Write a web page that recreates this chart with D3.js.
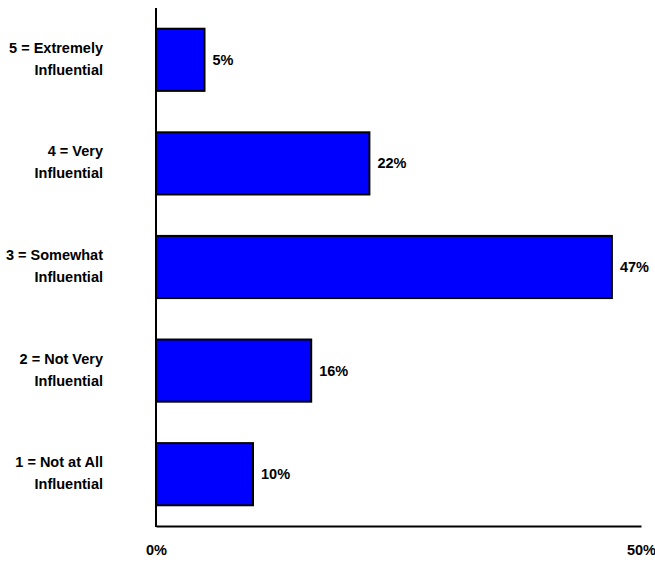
<!DOCTYPE html>
<html>
<head>
<meta charset="utf-8">
<script src="https://cdn.jsdelivr.net/npm/d3@7"></script>
<style>
  html, body { margin: 0; padding: 0; background: #fff; }
  svg text { font-family: "Liberation Sans", Arial, sans-serif; font-weight: bold; font-size: 14.5px; fill: #000; }
</style>
</head>
<body>
<svg id="chart" width="655" height="562"></svg>
<script>
// Rating categories, top to bottom, each split into two label lines
const categories = ["5 = Extremely Influential", "4 = Very Influential", "3 = Somewhat Influential", "2 = Not Very Influential", "1 = Not at All Influential"];
const labelLines = [
  ["5 = Extremely", "Influential"],
  ["4 = Very", "Influential"],
  ["3 = Somewhat", "Influential"],
  ["2 = Not Very", "Influential"],
  ["1 = Not at All", "Influential"]
];
const values = [5, 22, 47, 16, 10];
const tickValues = [0, 50];

const svg = d3.select("#chart");
const plotLeft = 156, plotRight = 641, plotTop = 8, plotBottom = 526;

const x = d3.scaleLinear().domain([0, 50]).range([plotLeft, plotRight]);
const y = d3.scaleBand().domain(categories).range([plotTop, plotBottom]).paddingInner(0.4).paddingOuter(0.2);

// Bars
svg.append("g").selectAll("rect")
  .data(values)
  .join("rect")
  .attr("x", x(0))
  .attr("y", (d, i) => y(categories[i]))
  .attr("width", d => x(d) - x(0))
  .attr("height", y.bandwidth())
  .attr("fill", "#0000ff")
  .attr("stroke", "#000")
  .attr("stroke-width", 2);

// Value labels
svg.append("g").selectAll("text")
  .data(values)
  .join("text")
  .attr("x", d => x(d) + 8)
  .attr("y", (d, i) => y(categories[i]) + y.bandwidth() / 2)
  .attr("dy", "0.35em")
  .text(d => d + "%");

// Category labels
const catG = svg.append("g");
categories.forEach((c, i) => {
  const cy = y(c) + y.bandwidth() / 2;
  const t = catG.append("text").attr("text-anchor", "end");
  labelLines[i].forEach((line, j) => {
    t.append("tspan")
      .attr("x", 103)
      .attr("y", cy - 12 + j * 22)
      .attr("dy", "0.35em")
      .text(line);
  });
});

// Axes
const xAxis = d3.axisBottom(x).tickValues(tickValues).tickSize(0).tickPadding(19).tickFormat(d => d + "%");
const gx = svg.append("g").attr("transform", `translate(0,${plotBottom})`).call(xAxis);
gx.select(".domain").attr("stroke", "#000").attr("stroke-width", 2);
gx.selectAll("text").attr("font-family", null).attr("font-size", null);

svg.append("line")
  .attr("x1", plotLeft).attr("x2", plotLeft)
  .attr("y1", plotTop).attr("y2", plotBottom + 1)
  .attr("stroke", "#000").attr("stroke-width", 2);
</script>
</body>
</html>
